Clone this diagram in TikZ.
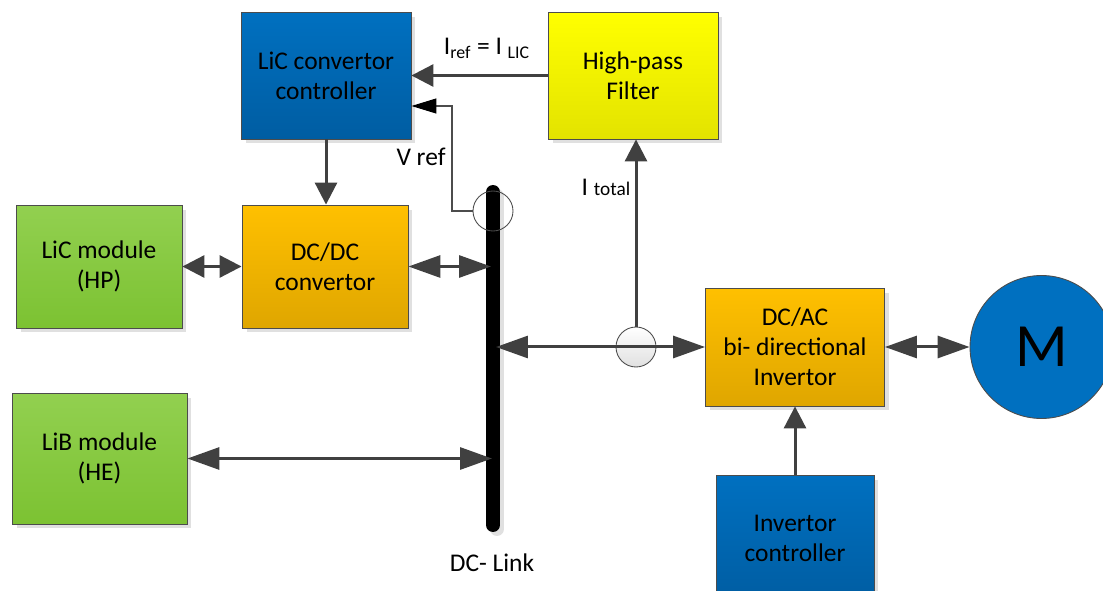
\documentclass[tikz,border=0pt]{standalone}
\usepackage{fontspec}
\setmainfont{Carlito}
\usepackage{tikz}
\usetikzlibrary{arrows.meta}
\usetikzlibrary{shadows}
\definecolor{ctrlblue}{HTML}{0070C0}
\definecolor{ctrlbluedk}{HTML}{005DA2}
\definecolor{filtyel}{HTML}{FFFF00}
\definecolor{filtyeldk}{HTML}{E3E300}
\definecolor{convorg}{HTML}{FFC000}
\definecolor{convorgdk}{HTML}{DFA600}
\definecolor{modgrn}{HTML}{92D050}
\definecolor{modgrndk}{HTML}{7CC232}
\definecolor{linegray}{HTML}{404040}
\tikzset{smalltip/.tip={Triangle[length=0.44cm,width=0.44cm]}}
\tikzset{bigtip/.tip={Triangle[length=0.64cm,width=0.44cm]}}
\tikzset{vtip/.tip={Triangle[length=0.5cm,width=0.3cm,color=black]}}
\tikzset{>=smalltip}
\tikzset{
	blk/.style={draw=black!70,line width=0.5pt,align=center,inner sep=0pt,
		font=\fontsize{14.5}{17}\selectfont,
		drop shadow={shadow xshift=0.09cm,shadow yshift=-0.09cm,fill=black!12,opacity=1}},
	ctrlfill/.style={top color=ctrlblue,bottom color=ctrlbluedk},
	filtfill/.style={top color=filtyel,bottom color=filtyeldk},
	convfill/.style={top color=convorg,bottom color=convorgdk},
	modfill/.style={top color=modgrn,bottom color=modgrndk},
	sensor/.style={circle,draw=black!70,line width=0.5pt,minimum size=0.8cm,inner sep=0pt},
	conn/.style={draw=linegray,line width=0.06cm},
	lbl/.style={font=\fontsize{14.5}{17}\selectfont,inner sep=0pt}
}
\begin{document}
\begin{tikzpicture}[x=0.02cm,y=-0.02cm]
	\useasboundingbox (0,0) rectangle (1103,591);
	\clip (0,0) rectangle (1103,591);
	\node[blk,ctrlfill,minimum width=3.4cm,minimum height=2.54cm] (ctrl) at (326,75.5) {LiC convertor\\controller};
	\node[blk,filtfill,minimum width=3.4cm,minimum height=2.54cm] (hpf) at (633,75.5) {High-pass\\Filter};
	\node[blk,modfill,minimum width=3.32cm,minimum height=2.46cm] (licm) at (99,266.5) {LiC module\\(HP)};
	\node[blk,convfill,minimum width=3.32cm,minimum height=2.46cm] (dcdc) at (325,266.5) {DC/DC\\convertor};
	\node[blk,modfill,minimum width=3.5cm,minimum height=2.62cm] (libm) at (99.5,458.5) {LiB module\\(HE)};
	\node[blk,convfill,minimum width=3.58cm,minimum height=2.36cm] (dcac) at (795,347) {DC/AC\\bi- directional\\Invertor};
	\node[blk,ctrlfill,minimum width=3.16cm,minimum height=2.54cm] (invc) at (795,538.5) {Invertor\\controller};
	\node[circle,draw=black!70,line width=0.5pt,fill=ctrlblue,minimum size=2.86cm,inner sep=0pt,font=\fontsize{35}{42}\selectfont] (motor) at (1041.5,347) {M};

	\coordinate (bustop) at (493,192);
	\coordinate (busbot) at (493,525);
	\draw[black!12,line width=0.28cm,line cap=round] ([xshift=0.08cm,yshift=-0.08cm]bustop) -- ([xshift=0.08cm,yshift=-0.08cm]busbot);
	\draw[line width=0.28cm,line cap=round] (bustop) -- (busbot);
	\coordinate (bA) at (491,266.5);
	\coordinate (bB) at (496,347);
	\coordinate (bC) at (492,458.5);
	\coordinate (vk) at (452,106);

	\node[sensor] (vs) at (493,211) {};
	\node[sensor,top color=white,bottom color=black!12] (is) at (636,347) {};

	\draw[conn,->] (ctrl.south) -- (ctrl.south |- dcdc.north);
	\draw[conn,->] (hpf.west) -- (ctrl.east |- hpf.west);
	\draw[draw=black!70,line width=0.6pt,-vtip] (vs.west) -| (vk) -- (ctrl.east |- vk);
	\draw[conn,<->] (licm.east) -- (dcdc.west);
	\draw[conn,bigtip-bigtip] (dcdc.east) -- (bA);
	\draw[conn,bigtip-bigtip] (libm.east) -- (bC);
	\draw[conn,bigtip-bigtip] (bB) -- (dcac.west);
	\draw[conn,->] (is.north) -- (is.north |- hpf.south);
	\draw[conn,bigtip-bigtip] (dcac.east) -- (motor.west);
	\draw[conn,->] (invc.north) -- (dcac.south);

	\node[lbl] (irefl) at (487,48) {I\textsubscript{ref} = I \textsubscript{LIC}};
	\node[lbl] (vrefl) at (421,157) {V ref};
	\node[lbl] (itotl) at (606,187) {I {\fontsize{11}{13}\selectfont total}};
	\node[lbl] (dcl) at (492,563) {DC- Link};
\end{tikzpicture}
\end{document}
